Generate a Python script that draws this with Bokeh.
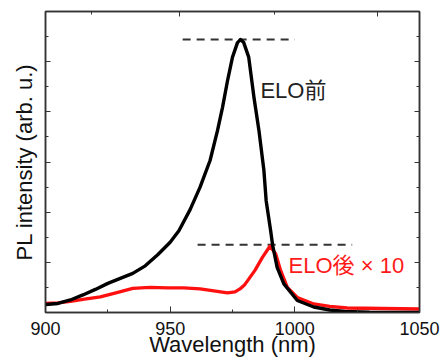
from bokeh.plotting import figure
from bokeh.models import LinearAxis, FixedTicker, Label, Range1d
from bokeh.embed import file_html
from bokeh.resources import INLINE

# Before ELO (black)
before_nm = [900, 905, 910, 915, 920, 925, 930, 935, 940, 945, 950, 953.5, 958, 962, 966,
             969, 971, 973, 975, 977, 978.2, 979.5, 981.5, 983.6, 985.6, 987.6, 988.5,
             990.3, 991.1, 992.9, 995.6, 1001, 1007.6, 1014, 1020, 1030, 1050]
before_int = [0.16, 0.18, 0.25, 0.35, 0.46, 0.58, 0.68, 0.78, 0.93, 1.15, 1.40, 1.63, 2.05,
              2.50, 3.03, 3.63, 4.09, 4.62, 5.09, 5.38, 5.44, 5.38, 5.09, 4.29, 3.63, 2.83,
              2.23, 1.63, 1.34, 0.90, 0.57, 0.24, 0.11, 0.05, 0.02, 0.005, 0.0]

# After ELO x10 (red)
after_nm = [900, 905, 910, 915, 922, 929, 935, 942, 949, 955.5, 962, 967.5, 973, 976, 978,
            980, 982, 984, 987, 990, 992.3, 994.3, 997, 1001, 1007.6, 1014, 1021, 1035, 1050]
after_int = [0.18, 0.19, 0.22, 0.26, 0.31, 0.40, 0.48, 0.50, 0.49, 0.49, 0.47, 0.43, 0.39,
             0.41, 0.47, 0.56, 0.70, 0.84, 1.10, 1.32, 1.17, 0.84, 0.50, 0.30, 0.17, 0.12,
             0.09, 0.08, 0.07]

# dashed reference lines
peak_line_nm = [955, 1000]
peak_line_val = [5.44, 5.44]
low_line_nm = [961, 1023]
low_line_val = [1.35, 1.35]

x_major = [900, 950, 1000, 1050]
x_minor = [925, 975, 1025]
y_major = [0, 1, 2, 3, 4, 5, 6]
y_minor = [0.5, 1.5, 2.5, 3.5, 4.5, 5.5]
energy_major = [1.3, 1.2]
energy_minor = [1.35, 1.25]

FONT = "Liberation Sans, Noto Sans CJK JP"
AX = "#333333"

p = figure(width=441, height=361, output_backend="svg", toolbar_location=None,
           x_range=Range1d(900, 1050), y_range=Range1d(0, 6),
           min_border_left=45, min_border_right=22, min_border_top=11, min_border_bottom=49)
p.grid.visible = False
p.background_fill_color = "white"
p.border_fill_color = "white"
p.outline_line_color = AX
p.outline_line_width = 1.5


def hidden_axis_style(ax):
    ax.major_label_text_font_size = "0px"
    ax.major_label_text_color = None
    ax.major_label_standoff = 0
    ax.major_tick_out = 0
    ax.major_tick_in = 5
    ax.minor_tick_out = 0
    ax.minor_tick_in = 3
    ax.axis_line_color = AX
    ax.axis_line_width = 1.5
    ax.major_tick_line_color = AX
    ax.minor_tick_line_color = AX


# bottom axis
xa = p.xaxis[0]
xa.ticker = FixedTicker(ticks=x_major, minor_ticks=x_minor)
xa.major_label_text_font = FONT
xa.major_label_text_font_size = "18px"
xa.major_label_text_color = "#111111"
xa.major_label_standoff = 9
xa.major_tick_out = 0
xa.major_tick_in = 6
xa.minor_tick_out = 0
xa.minor_tick_in = 3
xa.axis_line_color = AX
xa.axis_line_width = 1.5
xa.major_tick_line_color = AX
xa.minor_tick_line_color = AX
xa.axis_label = "Wavelength (nm)"
xa.axis_label_text_font = FONT
xa.axis_label_text_font_size = "22px"
xa.axis_label_text_font_style = "normal"
xa.axis_label_text_color = "#111111"
xa.axis_label_standoff = -6

# left axis
ya = p.yaxis[0]
ya.ticker = FixedTicker(ticks=y_major, minor_ticks=y_minor)
hidden_axis_style(ya)
ya.axis_label = "PL intensity (arb. u.)"
ya.axis_label_text_font = FONT
ya.axis_label_text_font_size = "22px"
ya.axis_label_text_font_style = "normal"
ya.axis_label_text_color = "#111111"
ya.axis_label_standoff = 9

# right axis
ra = LinearAxis(ticker=FixedTicker(ticks=y_major, minor_ticks=y_minor))
hidden_axis_style(ra)
p.add_layout(ra, "right")

# top axis: photon energy ticks (eV) positioned at wavelength 1240/E
top_major = [1240.0 / e for e in energy_major]
top_minor = [1240.0 / e for e in energy_minor]
ta = LinearAxis(ticker=FixedTicker(ticks=top_major, minor_ticks=top_minor))
hidden_axis_style(ta)
p.add_layout(ta, "above")

# dashed lines
p.line(peak_line_nm, peak_line_val, line_color=AX, line_width=2, line_dash="8 6")
p.line(low_line_nm, low_line_val, line_color=AX, line_width=2, line_dash="8 6")

# curves
p.line(after_nm, after_int, line_color="#ff1010", line_width=3.3, line_join="round")
p.line(before_nm, before_int, line_color="#000000", line_width=3.4, line_join="round")

p.add_layout(Label(x=986.2, y=4.42, text="ELO前", text_font=FONT, text_font_size="22px",
                   text_color="#222222", text_baseline="middle", text_align="left"))
p.add_layout(Label(x=997.5, y=0.94, text="ELO後 × 10", text_font=FONT, text_font_size="22px",
                   text_color="#ff1a1a", text_baseline="middle", text_align="left"))

open("out.html", "w").write(file_html(p, INLINE))
